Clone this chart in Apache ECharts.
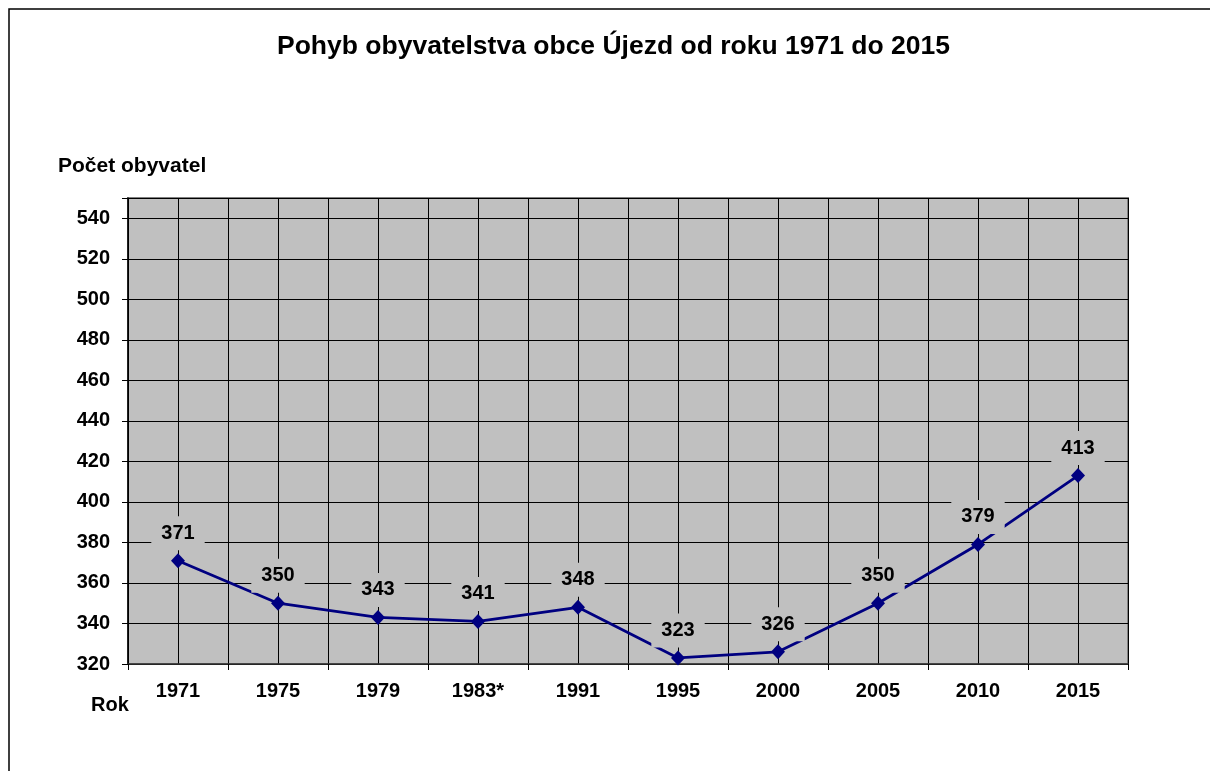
<!DOCTYPE html>
<html lang="cs">
  <head>
    <meta charset="UTF-8" />
    <title>Pohyb obyvatelstva obce Újezd</title>
    <script src="https://cdn.jsdelivr.net/npm/echarts@6/dist/echarts.min.js"></script>
    <style>
      html, body { margin: 0; padding: 0; background: #fff; }
      #chart { width: 1210px; height: 771px; }
    </style>
  </head>
  <body>
    <div id="chart"></div>
    <script>
      // data
      const years = ["1971", "1975", "1979", "1983*", "1991", "1995", "2000", "2005", "2010", "2015"];
      const population = [371, 350, 343, 341, 348, 323, 326, 350, 379, 413];

      const font = "'Liberation Sans', Arial, sans-serif";
      const myChart = echarts.init(document.getElementById("chart"));

      const option = {
        backgroundColor: "#ffffff",
        animation: false,
        title: {
          text: "Pohyb obyvatelstva obce Újezd od roku 1971 do 2015",
          left: 277,
          top: 33,
          padding: 0,
          textStyle: { fontFamily: font, fontSize: 26.5, fontWeight: "bold", color: "#000" }
        },
        graphic: [
          // outer frame of the chart area
          {
            type: "rect",
            shape: { x: 9, y: 9, width: 1400, height: 900 },
            style: { fill: null, stroke: "#000", lineWidth: 1.5 },
            silent: true
          },
          {
            type: "text",
            left: 58,
            top: 156,
            style: { text: "Počet obyvatel", font: "bold 21px " + font, fill: "#000" }
          },
          {
            type: "text",
            left: 91,
            top: 695,
            style: { text: "Rok", font: "bold 20px " + font, fill: "#000" }
          }
        ],
        grid: {
          left: 128,
          top: 198,
          width: 1000,
          height: 466,
          show: true,
          backgroundColor: "#c0c0c0",
          borderColor: "#808080",
          borderWidth: 2
        },
        xAxis: [
          {
            type: "category",
            data: years,
            boundaryGap: true,
            axisLine: { lineStyle: { color: "#333", width: 1.5 } },
            axisTick: { show: true, length: 6, lineStyle: { color: "#000" } },
            axisLabel: {
              margin: 17,
              fontFamily: font,
              fontSize: 20,
              fontWeight: "bold",
              color: "#000"
            },
            splitLine: { show: false }
          },
          {
            // helper axis, only for the vertical grid every half category
            type: "value",
            min: 0,
            max: 20,
            interval: 1,
            show: true,
            axisLine: { show: false },
            axisTick: { show: false },
            axisLabel: { show: false },
            splitLine: { show: true, lineStyle: { color: "#000", width: 1 } }
          }
        ],
        yAxis: {
          type: "value",
          min: 320,
          max: 550,
          interval: 20,
          axisLine: { show: true, lineStyle: { color: "#000", width: 1.5 } },
          axisTick: { show: true, length: 6, lineStyle: { color: "#000" } },
          axisLabel: {
            margin: 18,
            fontFamily: font,
            fontSize: 20,
            fontWeight: "bold",
            color: "#000",
            formatter: (v) => (v > 540 ? "" : v)
          },
          splitLine: { show: true, lineStyle: { color: "#000", width: 1 } }
        },
        series: [
          {
            type: "line",
            xAxisIndex: 0,
            data: population,
            symbol: "diamond",
            symbolSize: [14, 15],
            lineStyle: { color: "#000080", width: 2.8 },
            itemStyle: { color: "#000080" },
            label: {
              show: true,
              position: "top",
              distance: 3,
              fontFamily: font,
              fontSize: 20,
              fontWeight: "bold",
              color: "#000",
              backgroundColor: "#c0c0c0",
              padding: [7, 10]
            }
          }
        ]
      };
      myChart.setOption(option);
    </script>
  </body>
</html>
